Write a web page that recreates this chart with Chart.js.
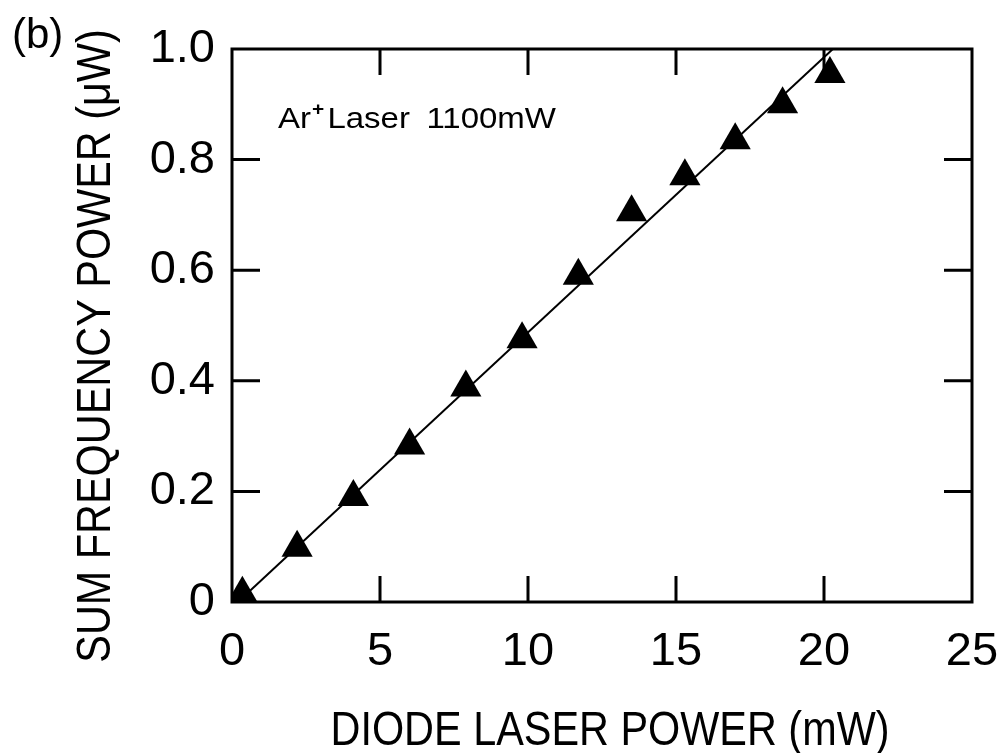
<!DOCTYPE html>
<html>
<head>
<meta charset="utf-8">
<script src="https://cdn.jsdelivr.net/npm/chart.js@4/dist/chart.umd.min.js"></script>
<style>
  html, body { margin: 0; padding: 0; background: #fff; }
  #wrap { width: 1001px; height: 753px; position: relative; }
</style>
</head>
<body>
<div id="wrap"><canvas id="grafica" width="1001" height="753"></canvas></div>
<script>
// measured points: diode power (mW) vs sum frequency power (uW)
var diodo_mw = [0.35, 2.2, 4.1, 6.0, 7.9, 9.8, 11.7, 13.5, 15.3, 17.0, 18.6, 20.2];
var suma_uw  = [0.015, 0.098, 0.19, 0.283, 0.388, 0.475, 0.59, 0.705, 0.77, 0.835, 0.9, 0.955];

// straight fit through the data
var recta_x = [0.2, 20.3];
var recta_y = [0.0, 1.0];

var ticks_x = [0, 5, 10, 15, 20, 25];
var ticks_y = [0, 0.2, 0.4, 0.6, 0.8, 1.0];

var titulo_x = 'DIODE LASER POWER (mW)';
var titulo_y = 'SUM FREQUENCY POWER (μW)';

var fuente = "'Liberation Sans', Arial, sans-serif";

function puntos(xs, ys) {
    var out = [];
    for (let i = 0; i < xs.length; i++) {
        out.push({x: xs[i], y: ys[i]});
    }
    return out;
}

// condensed text, like the narrow face of the axis titles
function texto_estrecho(ctx, txt, x, y, ang) {
    ctx.save();
    ctx.translate(x, y);
    ctx.rotate(ang);
    ctx.scale(0.845, 1);
    ctx.textAlign = 'center';
    ctx.textBaseline = 'middle';
    ctx.font = '49px ' + fuente;
    ctx.fillText(txt, 0, 0);
    ctx.restore();
}

// frame, inward ticks and the text labels
var marco = {
    id: 'marco',
    afterDraw: function(chart) {
        var ctx = chart.ctx;
        var a = chart.chartArea;
        var sx = chart.scales.x;
        var sy = chart.scales.y;
        ctx.save();
        ctx.strokeStyle = '#000';
        ctx.lineWidth = 3;
        ctx.strokeRect(a.left, a.top, a.right - a.left, a.bottom - a.top);

        ctx.beginPath();
        for (let i = 1; i < ticks_x.length - 1; i++) {
            var px = sx.getPixelForValue(ticks_x[i]);
            ctx.moveTo(px, a.bottom);
            ctx.lineTo(px, a.bottom - 26);
            ctx.moveTo(px, a.top);
            ctx.lineTo(px, a.top + 26);
        }
        for (let i = 1; i < ticks_y.length - 1; i++) {
            var py = sy.getPixelForValue(ticks_y[i]);
            ctx.moveTo(a.left, py);
            ctx.lineTo(a.left + 28, py);
            ctx.moveTo(a.right, py);
            ctx.lineTo(a.right - 28, py);
        }
        ctx.stroke();

        ctx.fillStyle = '#000';
        ctx.textBaseline = 'alphabetic';
        ctx.textAlign = 'left';
        ctx.font = '42px ' + fuente;
        ctx.fillText('(b)', 12, 48);

        texto_estrecho(ctx, titulo_y, 96, 346, -Math.PI / 2);
        texto_estrecho(ctx, titulo_x, 610, 731, 0);

        // Ar+ laser note, slightly stretched
        var tx = sx.getPixelForValue(1.55);
        var ty = sy.getPixelForValue(0.858);
        ctx.save();
        ctx.translate(tx, ty);
        ctx.scale(1.1, 1);
        ctx.textBaseline = 'alphabetic';
        ctx.textAlign = 'left';
        ctx.font = '30px ' + fuente;
        ctx.fillText('Ar', 0, 0);
        ctx.font = 'bold 19px ' + fuente;
        ctx.fillText('+', 31, -13);
        ctx.font = '30px ' + fuente;
        ctx.fillText('Laser', 45, 0);
        ctx.fillText('1100mW', 135, 0);
        ctx.restore();
        ctx.restore();
    }
};

new Chart(document.getElementById("grafica"), {
    type: 'scatter',
    data: {
        datasets: [{
            label: 'ajuste',
            type: 'line',
            data: puntos(recta_x, recta_y),
            borderColor: '#000',
            borderWidth: 2,
            pointRadius: 0,
            fill: false
        }, {
            label: 'SFG',
            data: puntos(diodo_mw, suma_uw),
            pointStyle: 'triangle',
            pointRadius: 18,
            backgroundColor: '#000',
            borderColor: '#000',
            borderWidth: 0
        }]
    },
    plugins: [marco],
    options: {
        responsive: false,
        animation: false,
        devicePixelRatio: 1,
        layout: { padding: { left: 8, right: 29, top: 49, bottom: 0 } },
        plugins: {
            legend: { display: false },
            tooltip: { enabled: false }
        },
        scales: {
            x: {
                type: 'linear',
                min: 0,
                max: 25,
                afterBuildTicks: function(s) { s.ticks = ticks_x.map(function(v) { return {value: v}; }); },
                afterFit: function(s) {
                    s.height = 151;
                    s.paddingLeft = 0;
                    s.paddingRight = 0;
                },
                grid: { display: false, drawTicks: false },
                border: { display: false },
                ticks: {
                    color: '#000',
                    padding: 22,
                    font: { family: fuente, size: 47 }
                },
                title: { display: false }
            },
            y: {
                type: 'linear',
                min: 0,
                max: 1.0,
                afterBuildTicks: function(s) { s.ticks = ticks_y.map(function(v) { return {value: v}; }); },
                afterFit: function(s) {
                    s.width = 224;
                    s.paddingTop = 0;
                    s.paddingBottom = 0;
                },
                grid: { display: false, drawTicks: false },
                border: { display: false },
                ticks: {
                    color: '#000',
                    padding: 17,
                    font: { family: fuente, size: 47 },
                    callback: function(v) { return v === 0 ? '0' : v.toFixed(1); }
                },
                title: { display: false }
            }
        }
    }
});
</script>
</body>
</html>
